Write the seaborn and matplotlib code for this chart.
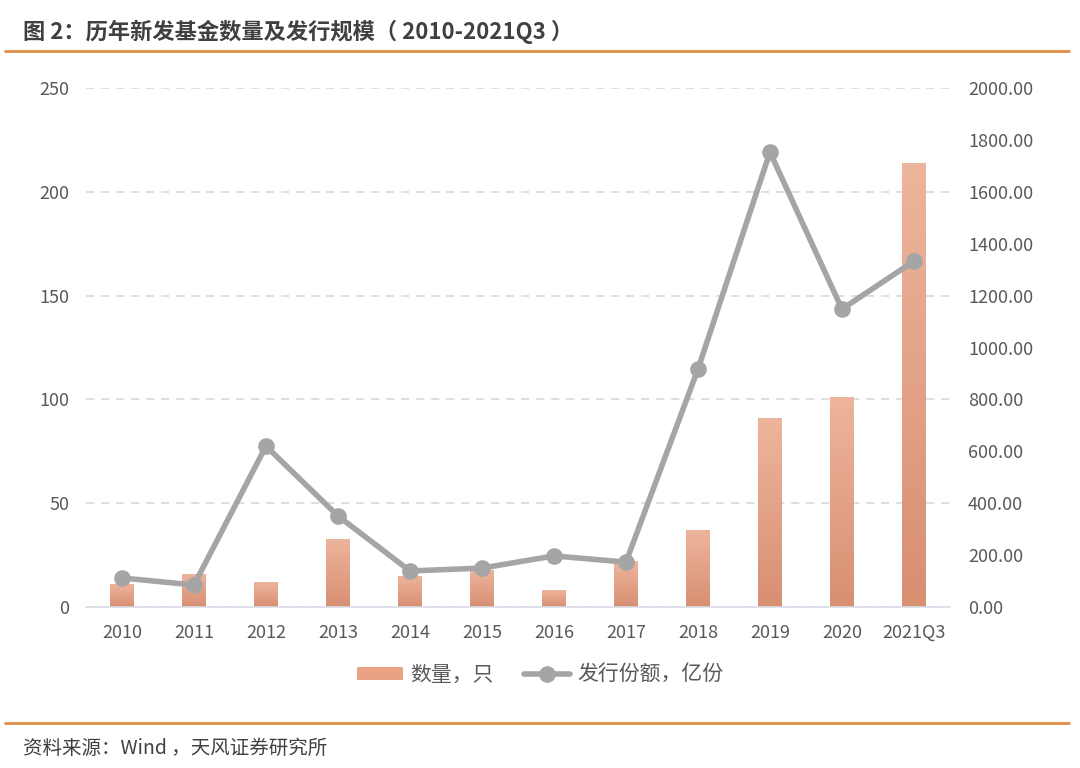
import numpy as np
import pandas as pd
import matplotlib
matplotlib.use("Agg")
import matplotlib.pyplot as plt
import seaborn as sns
from matplotlib.colors import LinearSegmentedColormap
from matplotlib.lines import Line2D
from matplotlib.patches import Patch

categories = ["2010", "2011", "2012", "2013", "2014", "2015", "2016", "2017",
              "2018", "2019", "2020", "2021Q3"]
fund_count = [11, 16, 12, 33, 15, 18, 8, 22, 37, 91, 101, 214]
issue_share = [112, 85, 620, 351, 139, 150, 197, 173, 917, 1753, 1148, 1333]
left_ticks = [0, 50, 100, 150, 200, 250]
right_ticks = [0, 200, 400, 600, 800, 1000, 1200, 1400, 1600, 1800, 2000]

title = "图 2：历年新发基金数量及发行规模（ 2010-2021Q3 ）"
source = "资料来源：Wind ，天风证券研究所"
bar_label = "数量，只"
line_label = "发行份额，亿份"

sns.set_theme(style="white")
plt.rcParams["font.family"] = ["Noto Sans CJK SC", "DejaVu Sans"]

df = pd.DataFrame({"cat": categories, "count": fund_count, "share": issue_share})

fig = plt.figure(figsize=(10.8, 7.68), dpi=100)
ax = fig.add_axes([0.0796, 0.2096, 0.8, 0.6758])
tick_color = "#595959"
bar_top = "#EDB59C"
bar_bot = "#D88F72"
line_color = "#A5A5A5"

sns.barplot(data=df, x="cat", y="count", ax=ax, color=bar_top, width=0.32,
            saturation=1, zorder=2)
ax.set_xlim(-0.5, len(categories) - 0.5)
ax.set_ylim(0, 250)
ax.set_yticks(left_ticks)
ax.set_yticklabels([str(t) for t in left_ticks])

# gradient fill for bars
cmap = LinearSegmentedColormap.from_list("g", [bar_bot, bar_top])
grad = np.linspace(0, 1, 256).reshape(-1, 1)
for p in list(ax.patches):
    x0, y0 = p.get_x(), p.get_y()
    w, h = p.get_width(), p.get_height()
    im = ax.imshow(grad, cmap=cmap, origin="lower", aspect="auto",
                   extent=[x0, x0 + w, y0, y0 + h], zorder=2.1)
    im.set_clip_path(p)
ax.set_xlim(-0.5, len(categories) - 0.5)
ax.set_ylim(0, 250)

ax.grid(axis="y", color="#D9D9D9", linestyle=(0, (5, 4)), linewidth=1.2, zorder=0)
for s in ["top", "right", "left"]:
    ax.spines[s].set_visible(False)
ax.spines["bottom"].set_color("#D9DDE6")
ax.spines["bottom"].set_linewidth(1.2)
ax.set_xlabel("")
ax.set_ylabel("")
ax.tick_params(axis="both", length=0, labelsize=13, colors=tick_color)
ax.tick_params(axis="x", pad=12)
ax.tick_params(axis="y", pad=12)

ax2 = ax.twinx()
sns.pointplot(x=df["cat"], y=df["share"], ax=ax2, color=line_color,
              markers="o", markersize=9, linewidth=4, errorbar=None, zorder=3)
ax2.set_xlim(-0.5, len(categories) - 0.5)
ax2.set_ylim(0, 2000)
ax2.set_yticks(right_ticks)
ax2.set_yticklabels([f"{t:.2f}" for t in right_ticks])
for s in ["top", "right", "left", "bottom"]:
    ax2.spines[s].set_visible(False)
ax2.set_ylabel("")
ax2.set_xlabel("")
ax2.tick_params(axis="y", length=0, labelsize=13, colors=tick_color, pad=13)
ax2.grid(False)

handles = [Patch(facecolor="#E9A283", edgecolor="none"),
           Line2D([0], [0], color=line_color, linewidth=4, marker="o", markersize=11)]
leg = fig.legend(handles, [bar_label, line_label], loc="center",
                 bbox_to_anchor=(0.5, 0.121), ncol=2, frameon=False,
                 fontsize=15, handlelength=2.2, handleheight=0.55,
                 columnspacing=1.45, handletextpad=0.35)
for t in leg.get_texts():
    t.set_color(tick_color)

fig.text(0.021, 0.958, title, fontsize=16, fontweight="bold", color="#404040",
         va="center", ha="left")
fig.add_artist(Line2D([0.005, 0.99], [0.934, 0.934], color="#E08B45", linewidth=2))
fig.add_artist(Line2D([0.005, 0.99], [0.059, 0.059], color="#E08B45", linewidth=2))
fig.text(0.021, 0.026, source, fontsize=14, color="#404040", va="center", ha="left")

fig.savefig("out.png", dpi=100)
